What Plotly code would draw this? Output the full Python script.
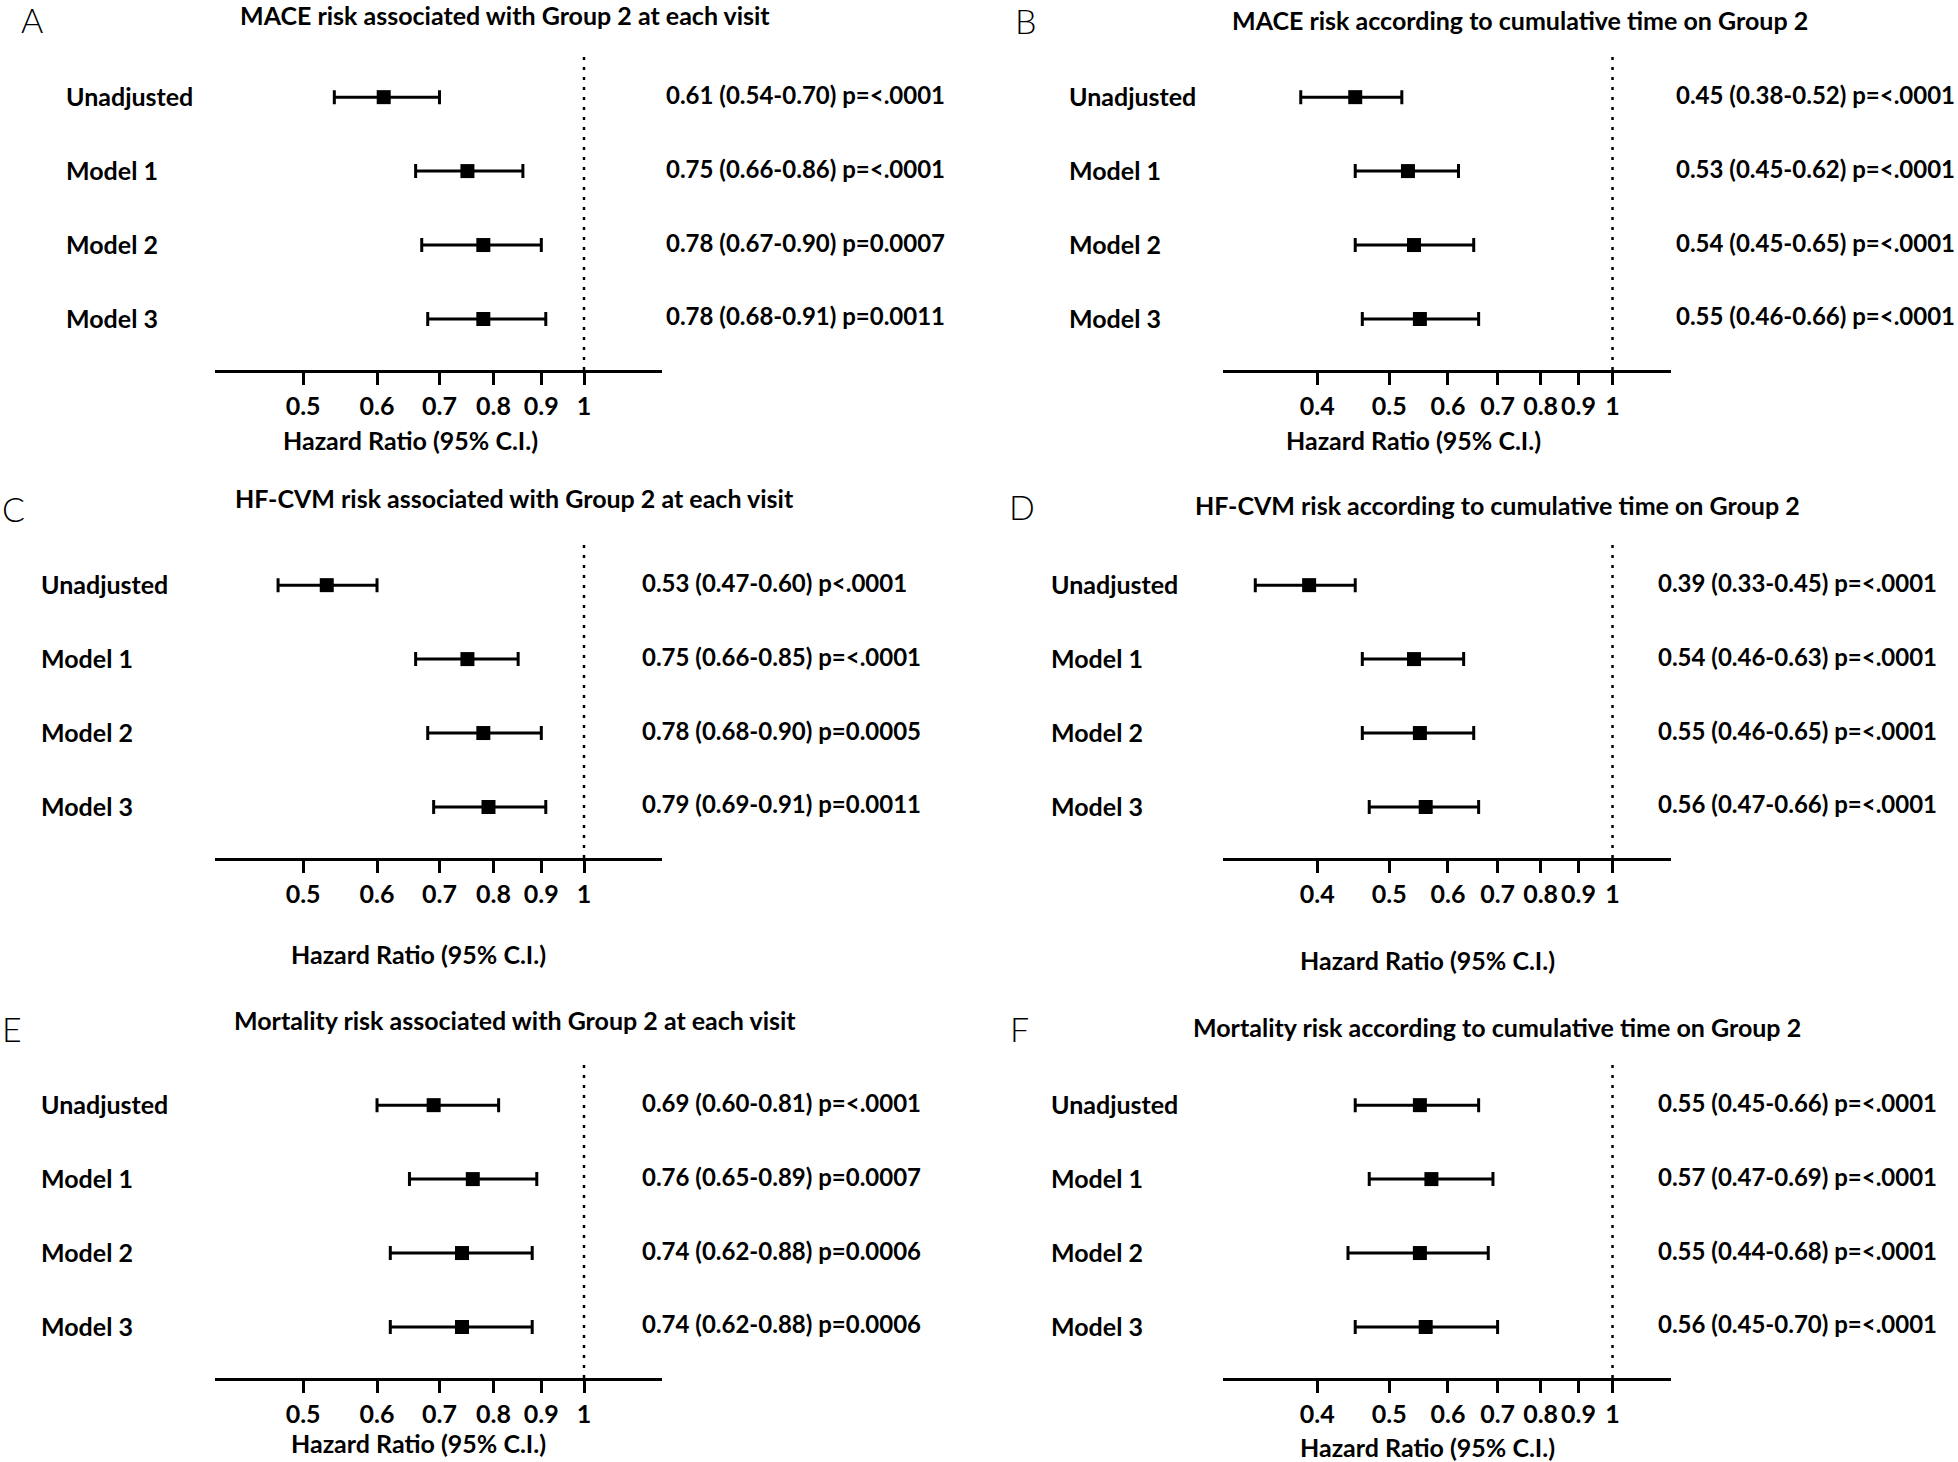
import plotly.graph_objects as go

W, H = 1958, 1462

row_labels = ["Unadjusted", "Model 1", "Model 2", "Model 3"]
row_pos = [1, 2, 3, 4]

titles = [
    "MACE risk associated with Group 2 at each visit",
    "MACE risk according to cumulative time on Group 2",
    "HF-CVM risk associated with Group 2 at each visit",
    "HF-CVM risk according to cumulative time on Group 2",
    "Mortality risk associated with Group 2 at each visit",
    "Mortality risk according to cumulative time on Group 2",
]
letters = ["A", "B", "C", "D", "E", "F"]

hr_A = [0.61, 0.75, 0.78, 0.78]
lo_A = [0.54, 0.66, 0.67, 0.68]
hi_A = [0.70, 0.86, 0.90, 0.91]
p_A = ["p=<.0001", "p=<.0001", "p=0.0007", "p=0.0011"]

hr_B = [0.45, 0.53, 0.54, 0.55]
lo_B = [0.38, 0.45, 0.45, 0.46]
hi_B = [0.52, 0.62, 0.65, 0.66]
p_B = ["p=<.0001", "p=<.0001", "p=<.0001", "p=<.0001"]

hr_C = [0.53, 0.75, 0.78, 0.79]
lo_C = [0.47, 0.66, 0.68, 0.69]
hi_C = [0.60, 0.85, 0.90, 0.91]
p_C = ["p<.0001", "p=<.0001", "p=0.0005", "p=0.0011"]

hr_D = [0.39, 0.54, 0.55, 0.56]
lo_D = [0.33, 0.46, 0.46, 0.47]
hi_D = [0.45, 0.63, 0.65, 0.66]
p_D = ["p=<.0001", "p=<.0001", "p=<.0001", "p=<.0001"]

hr_E = [0.69, 0.76, 0.74, 0.74]
lo_E = [0.60, 0.65, 0.62, 0.62]
hi_E = [0.81, 0.89, 0.88, 0.88]
p_E = ["p=<.0001", "p=0.0007", "p=0.0006", "p=0.0006"]

hr_F = [0.55, 0.57, 0.55, 0.56]
lo_F = [0.45, 0.47, 0.44, 0.45]
hi_F = [0.66, 0.69, 0.68, 0.70]
p_F = ["p=<.0001", "p=<.0001", "p=<.0001", "p=<.0001"]

ticks_left = [0.5, 0.6, 0.7, 0.8, 0.9, 1]
ticks_right = [0.4, 0.5, 0.6, 0.7, 0.8, 0.9, 1]
tick_text_left = ["0.5", "0.6", "0.7", "0.8", "0.9", "1"]
tick_text_right = ["0.4", "0.5", "0.6", "0.7", "0.8", "0.9", "1"]

data = [
    (hr_A, lo_A, hi_A, p_A),
    (hr_B, lo_B, hi_B, p_B),
    (hr_C, lo_C, hi_C, p_C),
    (hr_D, lo_D, hi_D, p_D),
    (hr_E, lo_E, hi_E, p_E),
    (hr_F, lo_F, hi_F, p_F),
]

# ---- layout geometry (pixels) ----
col_x = [(215, 662), (1223, 1671)]
row_y = [(55, 370), (543, 858), (1063, 1378)]
x_ranges = [[-0.3955, 0.0836], [-0.525, 0.0788]]
title_pos = [(505, 15), (1520, 20), (514, 498), (1497, 505), (515, 1020), (1497, 1027)]
letter_pos = [(32, 20), (1026, 21), (13, 508), (1022, 506), (12, 1028), (1020, 1028)]
label_x = [64, 1067, 39, 1049, 39, 1049]
annot_x = [664, 1674, 640, 1656, 640, 1656]
axtitle_pos = [(410, 440), (1413, 440), (418, 954), (1427, 960), (418, 1443), (1427, 1447)]

FONT = "Lato"
FS = 25
FS_ANN = 24
BLACK = "#000000"


def px(x):
    return x / W


def py(y):
    return 1 - y / H


fig = go.Figure()
annotations = []
shapes = []

for i in range(6):
    r, c = divmod(i, 2)
    hr, lo, hi, pv = data[i]
    ax = "" if i == 0 else str(i + 1)
    xa, ya = "x" + ax, "y" + ax
    fig.add_trace(go.Scatter(
        x=hr, y=row_pos, mode="markers", xaxis=xa, yaxis=ya,
        marker=dict(symbol="square", size=14, color=BLACK),
        error_x=dict(type="data", symmetric=False,
                     array=[h - v for h, v in zip(hi, hr)],
                     arrayminus=[v - l for v, l in zip(hr, lo)],
                     thickness=3, width=7, color=BLACK),
        showlegend=False, hoverinfo="skip",
    ))
    x0, x1 = col_x[c]
    y0, y1 = row_y[r]
    ticks = ticks_left if c == 0 else ticks_right
    ttext = tick_text_left if c == 0 else tick_text_right
    fig.layout["xaxis" + ax] = dict(
        domain=[px(x0), px(x1)], anchor=ya, type="log", range=x_ranges[c],
        tickvals=ticks, ticktext=ttext, ticks="outside", ticklen=12, tickwidth=3,
        tickcolor=BLACK, showline=True, linecolor=BLACK, linewidth=3,
        showgrid=False, zeroline=False, ticklabelstandoff=0,
        tickfont=dict(family=FONT, size=FS, color=BLACK, weight="bold"),
        fixedrange=True,
    )
    fig.layout["yaxis" + ax] = dict(
        domain=[py(y1), py(y0)], anchor=xa, range=[4.69, 0.43],
        visible=False, showgrid=False, zeroline=False, fixedrange=True,
    )
    # reference line at HR = 1
    shapes.append(dict(type="line", xref=xa, yref=ya + " domain", x0=1, x1=1, y0=0, y1=1,
                       line=dict(color=BLACK, width=2.5, dash="3px,7px")))
    # panel title
    tx, ty = title_pos[i]
    annotations.append(dict(text=titles[i], xref="paper", yref="paper", x=px(tx), y=py(ty),
                            xanchor="center", yanchor="middle", showarrow=False,
                            font=dict(family=FONT, size=FS, color=BLACK, weight="bold")))
    lx, ly = letter_pos[i]
    annotations.append(dict(text=letters[i], xref="paper", yref="paper", x=px(lx), y=py(ly),
                            xanchor="center", yanchor="middle", showarrow=False,
                            font=dict(family=FONT, size=34, color=BLACK, weight=300)))
    for k in range(4):
        annotations.append(dict(text=row_labels[k], xref="paper", yref=ya, x=px(label_x[i]),
                                y=row_pos[k], xanchor="left", yanchor="middle", yshift=1,
                                showarrow=False,
                                font=dict(family=FONT, size=FS, color=BLACK, weight="bold")))
        txt = f"{hr[k]:.2f} ({lo[k]:.2f}-{hi[k]:.2f}) {pv[k]}"
        annotations.append(dict(text=txt, xref="paper", yref=ya, x=px(annot_x[i]),
                                y=row_pos[k], xanchor="left", yanchor="middle", yshift=3,
                                showarrow=False,
                                font=dict(family=FONT, size=FS_ANN, color=BLACK, weight="bold")))
    ax_x, ax_y = axtitle_pos[i]
    annotations.append(dict(text="Hazard Ratio (95% C.I.)", xref="paper", yref="paper",
                            x=px(ax_x), y=py(ax_y), xanchor="center", yanchor="middle",
                            showarrow=False,
                            font=dict(family=FONT, size=FS, color=BLACK, weight="bold")))

fig.update_layout(
    width=W, height=H, margin=dict(l=0, r=0, t=0, b=0),
    paper_bgcolor="white", plot_bgcolor="white",
    annotations=annotations, shapes=shapes, showlegend=False,
)

fig.write_html("out.html", config={"displayModeBar": False},
               post_script="document.body.style.margin='0px';")
